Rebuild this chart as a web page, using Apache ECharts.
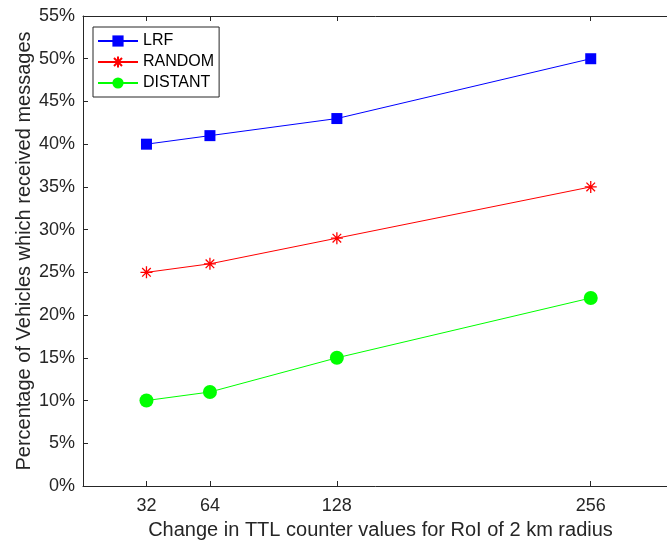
<!DOCTYPE html>
<html>
<head>
<meta charset="utf-8">
<script src="https://cdn.jsdelivr.net/npm/echarts@6/dist/echarts.min.js"></script>
<style>
html, body { margin: 0; padding: 0; background: #fff; }
#chart { width: 667px; height: 544px; }
</style>
</head>
<body>
<div id="chart"></div>
<script>
// TTL counter values (x) and percentages per strategy
const ttlValues = [32, 64, 128, 256]
const lrf = [40, 41, 43, 50]
const random = [25, 26, 29, 35]
const distant = [10, 11, 15, 22]

const textColor = '#262626'
const font = 'Liberation Sans, Arial, Helvetica, sans-serif'
// MATLAB style '*' marker, stroked only
const asterisk = 'path://M0,-6L0,6M-6,0L6,0M-4.3,-4.3L4.3,4.3M-4.3,4.3L4.3,-4.3'

const pairs = arr => ttlValues.map((x, i) => [x, arr[i]])

const chart = echarts.init(document.getElementById('chart'))
const option = {
    backgroundColor: '#fff',
    animation: false,
    textStyle: { fontFamily: font, color: textColor },
    grid: { left: 83, top: 16, width: 595, height: 470, outerBoundsMode: 'none' },
    legend: {
        orient: 'vertical',
        left: 93,
        top: 27,
        backgroundColor: '#fff',
        borderColor: textColor,
        borderWidth: 1,
        borderRadius: 0,
        padding: [6, 5, 6, 4],
        itemWidth: 40,
        itemHeight: 14,
        itemGap: 5,
        textStyle: { fontFamily: font, fontSize: 16, color: '#000' },
        data: ['LRF', 'RANDOM', 'DISTANT']
    },
    xAxis: [{
        type: 'value',
        min: 0,
        max: 300,
        position: 'bottom',
        name: 'Change in TTL counter values for RoI of 2 km radius',
        nameLocation: 'middle',
        nameGap: 34,
        nameMoveOverlap: false,
        nameTextStyle: { fontFamily: font, fontSize: 20, color: textColor },
        axisLine: { show: true, lineStyle: { color: textColor, width: 1 } },
        axisTick: { show: true, inside: true, length: 5, customValues: ttlValues, lineStyle: { color: textColor } },
        axisLabel: { customValues: ttlValues, fontSize: 18, color: textColor, margin: 11, fontFamily: font },
        splitLine: { show: false }
    }, {
        type: 'value',
        min: 0,
        max: 300,
        position: 'top',
        axisLine: { show: true, lineStyle: { color: textColor, width: 1 } },
        axisTick: { show: true, inside: true, length: 5, customValues: ttlValues, lineStyle: { color: textColor } },
        axisLabel: { show: false },
        splitLine: { show: false }
    }],
    yAxis: {
        type: 'value',
        min: 0,
        max: 55,
        interval: 5,
        name: 'Percentage of Vehicles which received messages',
        nameLocation: 'middle',
        nameGap: 49,
        nameMoveOverlap: false,
        nameTextStyle: { fontFamily: font, fontSize: 20, color: textColor },
        axisLine: { show: true, lineStyle: { color: textColor, width: 1 } },
        axisTick: { show: true, inside: true, length: 5, lineStyle: { color: textColor } },
        axisLabel: { formatter: '{value}%', fontSize: 18, color: textColor, margin: 8, fontFamily: font },
        splitLine: { show: false }
    },
    series: [{
        name: 'LRF',
        type: 'line',
        data: pairs(lrf),
        symbol: 'rect',
        symbolSize: 11,
        lineStyle: { color: '#0000ff', width: 1 },
        itemStyle: { color: '#0000ff' }
    }, {
        name: 'RANDOM',
        type: 'line',
        data: pairs(random),
        symbol: asterisk,
        symbolSize: 12,
        lineStyle: { color: '#ff0000', width: 1 },
        itemStyle: { color: 'rgba(0,0,0,0)', borderColor: '#ff0000', borderWidth: 1.3 }
    }, {
        name: 'DISTANT',
        type: 'line',
        data: pairs(distant),
        symbol: 'circle',
        symbolSize: 14,
        lineStyle: { color: '#00ff00', width: 1 },
        itemStyle: { color: '#00ff00' }
    }]
}
chart.setOption(option)
</script>
</body>
</html>
